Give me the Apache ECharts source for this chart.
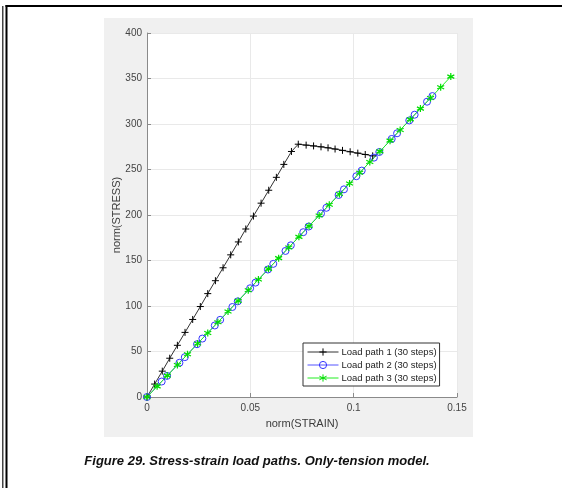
<!DOCTYPE html>
<html>
<head>
<meta charset="utf-8">
<script src="https://cdn.jsdelivr.net/npm/echarts@6/dist/echarts.min.js"></script>
<style>
  html, body { margin: 0; padding: 0; background: #fff; }
  #chart { width: 562px; height: 488px; }
</style>
</head>
<body>
<div id="chart"></div>
<script>
// values
const strain1 = [0, 0.0037, 0.0074, 0.0110, 0.0147, 0.0184, 0.0221, 0.0258, 0.0294, 0.0331,
  0.0368, 0.0405, 0.0442, 0.0478, 0.0515, 0.0552, 0.0589, 0.0626, 0.0662, 0.0699,
  0.0732, 0.0770, 0.0806, 0.0842, 0.0876, 0.0910, 0.0946, 0.0983, 0.1020, 0.1056, 0.1092];
const stress1 = [0, 14.2, 28.4, 42.6, 56.8, 71.0, 85.2, 99.4, 113.6, 127.8,
  142.0, 156.2, 170.4, 184.6, 198.8, 213.0, 227.2, 241.4, 255.6, 269.8,
  277.8, 276.8, 275.9, 274.9, 273.8, 272.5, 271.0, 269.5, 268.0, 266.5, 265.0];

const strain2 = [0, 0.0071, 0.0097, 0.0157, 0.0183, 0.0242, 0.0268, 0.0328, 0.0354, 0.0413,
  0.0439, 0.0499, 0.0525, 0.0585, 0.0611, 0.0670, 0.0696, 0.0756, 0.0782, 0.0842,
  0.0868, 0.0927, 0.0953, 0.1013, 0.1039, 0.1098, 0.1124, 0.1184, 0.1210, 0.1269,
  0.1295, 0.1355, 0.1381];
const stress2 = [0, 17.0, 23.2, 37.6, 43.8, 58.0, 64.2, 78.6, 84.8, 98.9,
  105.1, 119.5, 125.7, 140.1, 146.3, 160.5, 166.7, 181.1, 187.3, 201.7,
  207.9, 222.0, 228.2, 242.6, 248.8, 263.0, 269.2, 283.6, 289.8, 303.9,
  310.2, 324.5, 330.7];

const strain3 = [0, 0.0049, 0.0098, 0.0147, 0.0196, 0.0245, 0.0294, 0.0343, 0.0392, 0.0441,
  0.0490, 0.0539, 0.0588, 0.0637, 0.0686, 0.0735, 0.0784, 0.0833, 0.0882, 0.0931,
  0.0980, 0.1029, 0.1078, 0.1127, 0.1176, 0.1225, 0.1274, 0.1323, 0.1372, 0.1421, 0.1470];
const stress3 = [0, 11.7, 23.5, 35.2, 46.9, 58.7, 70.4, 82.1, 93.9, 105.6,
  117.4, 129.1, 140.8, 152.6, 164.3, 176.0, 187.8, 199.5, 211.2, 223.0,
  234.7, 246.4, 258.2, 269.9, 281.7, 293.4, 305.1, 316.9, 328.6, 340.3, 352.1];

const seriesNames = ['Load path 1 (30 steps)', 'Load path 2 (30 steps)', 'Load path 3 (30 steps)'];
const xTicks = [0, 0.05, 0.1, 0.15];

const pairs = (xs, ys) => xs.map((x, i) => [x, ys[i]]);

const chart = echarts.init(document.getElementById('chart'));
const font = '"Liberation Sans", Arial, sans-serif';
const axisGray = '#8a8a8a';

chart.setOption({
  animation: false,
  backgroundColor: '#fff',
  textStyle: { fontFamily: font },
  grid: {
    left: 147, right: 105, top: 33, bottom: 91,
    show: true, backgroundColor: '#fff', borderWidth: 0
  },
  xAxis: {
    type: 'value', min: 0, max: 0.15, interval: 0.05,
    name: 'norm(STRAIN)', nameLocation: 'middle', nameGap: 21,
    nameTextStyle: { fontSize: 11, color: '#3c3c3c', fontFamily: font },
    axisLine: { onZero: false, lineStyle: { color: axisGray, width: 1 } },
    axisTick: { inside: true, length: 4, lineStyle: { color: axisGray } },
    axisLabel: { fontSize: 10, color: '#444', margin: 6, fontFamily: font,
      formatter: v => String(xTicks.find(t => Math.abs(t - v) < 1e-9) ?? v) },
    splitLine: { lineStyle: { color: '#e9e9e9', width: 1 } }
  },
  yAxis: {
    type: 'value', min: 0, max: 400, interval: 50,
    name: 'norm(STRESS)', nameLocation: 'middle', nameGap: 25, nameMoveOverlap: false,
    nameTextStyle: { fontSize: 11, color: '#3c3c3c', fontFamily: font },
    axisLine: { show: true, onZero: false, lineStyle: { color: axisGray, width: 1 } },
    axisTick: { show: true, inside: true, length: 4, lineStyle: { color: axisGray } },
    axisLabel: { fontSize: 10, color: '#444', margin: 5, fontFamily: font },
    splitLine: { lineStyle: { color: '#e9e9e9', width: 1 } }
  },
  legend: {
    orient: 'vertical', left: 303, top: 343,
    data: seriesNames,
    backgroundColor: '#fff', borderColor: '#333', borderWidth: 1,
    padding: [4, 3, 3, 4], itemGap: 3, itemWidth: 31, itemHeight: 9,
    lineStyle: { width: 1 },
    itemStyle: { borderWidth: 1 },
    textStyle: { fontSize: 9.5, color: '#222', fontFamily: font, padding: [0, 0, 0, -2] }
  },
  series: [
    {
      name: seriesNames[0], type: 'line', data: pairs(strain1, stress1),
      symbol: 'path://M5,0L5,10M0,5L10,5', symbolSize: 7,
      lineStyle: { color: '#333', width: 1 },
      itemStyle: { color: '#000', borderColor: '#000', borderWidth: 1 }
    },
    {
      name: seriesNames[1], type: 'line', data: pairs(strain2, stress2),
      symbol: 'circle', symbolSize: 7,
      lineStyle: { color: '#5555ff', width: 1 },
      itemStyle: { color: 'rgba(0,0,0,0)', borderColor: '#3333ff', borderWidth: 1 }
    },
    {
      name: seriesNames[2], type: 'line', data: pairs(strain3, stress3),
      symbol: 'path://M5,0L5,10M0.67,2.5L9.33,7.5M0.67,7.5L9.33,2.5', symbolSize: 7,
      lineStyle: { color: '#22ee22', width: 1 },
      itemStyle: { color: '#00dd00', borderColor: '#00dd00', borderWidth: 1.2 }
    }
  ],
  graphic: [
    { type: 'rect', z: -10, shape: { x: 104, y: 18, width: 369, height: 419 },
      style: { fill: '#f0f0f0' } },
    { type: 'rect', z: 100, shape: { x: 2, y: 6, width: 1.5, height: 482 },
      style: { fill: '#444' } },
    { type: 'rect', z: 100, shape: { x: 5.5, y: 5, width: 2, height: 483 },
      style: { fill: '#000' } },
    { type: 'rect', z: 100, shape: { x: 5.5, y: 5, width: 557, height: 2 },
      style: { fill: '#000' } },
    { type: 'text', z: 100, x: 257, y: 461,
      style: { text: 'Figure 29. Stress-strain load paths. Only-tension model.',
        font: 'italic bold 13px "Liberation Sans", Arial, sans-serif',
        fill: '#111', textAlign: 'center', textVerticalAlign: 'middle' } }
  ]
});
</script>
</body>
</html>
